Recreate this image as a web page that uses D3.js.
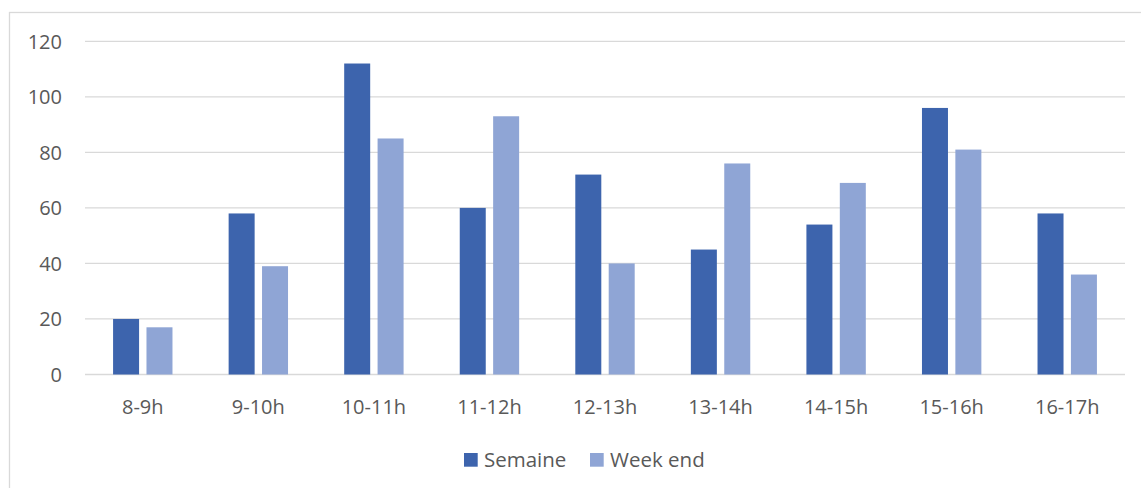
<!DOCTYPE html>
<html><head><meta charset="utf-8">
<script src="https://cdn.jsdelivr.net/npm/d3@7"></script>
<style>body{margin:0;background:#fff;} svg{display:block;font-family:"Open Sans","Noto Sans",sans-serif;}</style>
</head><body>
<svg id="c" width="1141" height="488"></svg>
<script>
const categories = ["8-9h","9-10h","10-11h","11-12h","12-13h","13-14h","14-15h","15-16h","16-17h"];
const semaine = [20,58,112,60,72,45,54,96,58];
const weekEnd = [17,39,85,93,40,76,69,81,36];
const yTicks = [0,20,40,60,80,100,120];
const seriesNames = ["Semaine","Week end"];
const colors = ["#3D64AD","#8FA5D5"];

(function(){
const svg = d3.select("#c");
svg.append("rect").attr("x",9.5).attr("y",12.5).attr("width",1140).attr("height",490)
  .attr("fill","#fff").attr("stroke","#D9D9D9").attr("stroke-width",1.3);

const pl=85, pr=1125, pt=41.3, pb=374.5;
const x = d3.scaleBand().domain(categories).range([pl,pr]).padding(0);
const y = d3.scaleLinear().domain([0,120]).range([pb,pt]);

const g = svg.append("g");
g.selectAll("line.grid").data(yTicks).join("line")
  .attr("x1",pl).attr("x2",pr)
  .attr("y1",d=>y(d)).attr("y2",d=>y(d))
  .attr("stroke","#D9D9D9").attr("stroke-width",1.3);

g.selectAll("text.yl").data(yTicks).join("text")
  .attr("x",62).attr("y",d=>y(d)).attr("dy","0.36em")
  .attr("text-anchor","end").attr("fill","#595959").attr("font-size",20).text(d=>d);

const bw = x.bandwidth()*0.225, gap = x.bandwidth()*0.064;
const series=[semaine,weekEnd];
series.forEach((vals,si)=>{
  g.selectAll("rect.s"+si).data(vals).join("rect").attr("class","s"+si)
   .attr("x",(d,i)=>x(categories[i])+x.bandwidth()/2 + (si===0 ? -gap/2-bw : gap/2))
   .attr("width",bw)
   .attr("y",d=>y(d)).attr("height",d=>y(0)-y(d))
   .attr("fill",colors[si]);
});

g.selectAll("text.xl").data(categories).join("text")
  .attr("x",d=>x(d)+x.bandwidth()/2).attr("y",413.5)
  .attr("text-anchor","middle").attr("fill","#595959").attr("font-size",20).text(d=>d);

const leg = svg.append("g");
const legX=[464,590];
seriesNames.forEach((n,i)=>{
  leg.append("rect").attr("x",legX[i]).attr("y",453).attr("width",13.7).attr("height",13.7).attr("fill",colors[i]);
  leg.append("text").attr("x",legX[i]+20).attr("y",467).attr("fill","#595959").attr("font-size",20.5).text(n);
});
})();
</script>
</body></html>
